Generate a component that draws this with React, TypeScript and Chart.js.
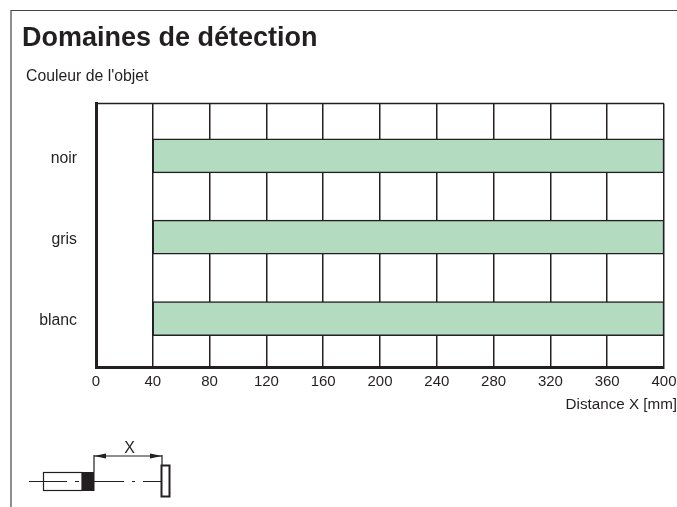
import React, { useEffect, useRef } from "react";
import { Chart, registerables } from "chart.js";

Chart.register(...registerables);

const categories = ["noir", "gris", "blanc"];
const rangeStart = [40, 40, 40];
const rangeEnd = [400, 400, 400];
const xTicks = [0, 40, 80, 120, 160, 200, 240, 280, 320, 360, 400];
const titleText = "Domaines de détection";
const subtitleText = "Couleur de l'objet";
const xAxisText = "Distance X [mm]";

const FONT = "'Liberation Sans', Arial, sans-serif";
const INK = "#231f20";

const decor = {
  id: "decor",
  beforeDraw(chart: any) {
    const c = chart.ctx;
    c.save();
    c.fillStyle = "#fff";
    c.fillRect(0, 0, chart.width, chart.height);
    c.strokeStyle = "#444";
    c.lineWidth = 1.2;
    c.beginPath();
    c.moveTo(11, 507);
    c.lineTo(11, 10.5);
    c.lineTo(677, 10.5);
    c.stroke();
    c.restore();
  },
  afterDraw(chart: any) {
    const c = chart.ctx;
    const a = chart.chartArea;
    c.save();
    c.strokeStyle = INK;
    c.lineWidth = 1.5;
    c.beginPath();
    c.moveTo(a.left, a.top);
    c.lineTo(a.right, a.top);
    c.stroke();

    c.fillStyle = INK;
    c.font = `15.8px ${FONT}`;
    c.textAlign = "left";
    c.textBaseline = "alphabetic";
    c.fillText(subtitleText, 26, 81);
    c.textAlign = "right";
    c.font = `15.2px ${FONT}`;
    c.fillText(xAxisText, 677, 409);

    // sensor sketch
    c.lineWidth = 1.2;
    c.strokeRect(43.5, 472.5, 38.5, 18);
    c.fillRect(82, 472, 12.5, 19);
    c.beginPath();
    c.moveTo(29, 481.5); c.lineTo(67, 481.5);
    c.moveTo(75, 481.5); c.lineTo(79, 481.5);
    c.moveTo(94, 481.5); c.lineTo(124, 481.5);
    c.moveTo(132, 481.5); c.lineTo(135, 481.5);
    c.moveTo(143, 481.5); c.lineTo(161, 481.5);
    c.moveTo(94, 472); c.lineTo(94, 455);
    c.moveTo(162, 465); c.lineTo(162, 455);
    c.moveTo(94, 456); c.lineTo(162, 456);
    c.stroke();
    c.lineWidth = 2;
    c.strokeRect(161.5, 465.5, 8, 31);
    c.beginPath();
    c.moveTo(94, 456); c.lineTo(106, 453.5); c.lineTo(106, 458.5); c.closePath();
    c.moveTo(162, 456); c.lineTo(150, 453.5); c.lineTo(150, 458.5); c.closePath();
    c.fill();
    c.font = `16px ${FONT}`;
    c.textAlign = "center";
    c.fillText("X", 129.5, 453);
    c.restore();
  },
};

export default function App() {
  const ref = useRef<HTMLCanvasElement>(null);
  useEffect(() => {
    const chart = new Chart(ref.current!, {
      type: "bar",
      plugins: [decor],
      data: {
        datasets: [
          {
            data: categories.map((_, i) => ({ x: [rangeStart[i], rangeEnd[i]], y: i })) as any,
            backgroundColor: "#b2dbbf",
            borderColor: INK,
            borderWidth: 1.5,
            borderSkipped: false,
            barThickness: 34,
          },
        ],
      },
      options: {
        indexAxis: "y",
        animation: false,
        responsive: false,
        parsing: { xAxisKey: "x", yAxisKey: "y" } as any,
        layout: { padding: { left: 22, right: 13, top: 0, bottom: 110 } },
        plugins: {
          legend: { display: false },
          tooltip: { enabled: false },
          title: {
            display: true,
            text: titleText,
            align: "start",
            color: INK,
            font: { family: FONT, size: 27, weight: "bold" },
            padding: { top: 22, bottom: 49 },
          },
        },
        scales: {
          x: {
            type: "linear",
            min: 0,
            max: 400,
            afterBuildTicks: (s: any) => {
              s.ticks = xTicks.map((value) => ({ value }));
            },
            afterFit: (s: any) => {
              s.height = 30;
              s.paddingLeft = 0;
              s.paddingRight = 0;
            },
            grid: { color: INK, lineWidth: 1.5, drawTicks: false },
            border: { color: INK, width: 3 },
            ticks: {
              color: INK,
              padding: 6,
              maxRotation: 0,
              autoSkip: false,
              font: { family: FONT, size: 15 },
            },
          },
          y: {
            type: "linear",
            reverse: true,
            offset: false,
            min: -0.644,
            max: 2.595,
            afterBuildTicks: (s: any) => {
              // labels sit slightly below the middle of each bar
              s.ticks = categories.map((_, i) => ({ value: i + 0.03 }));
            },
            afterFit: (s: any) => {
              s.width = 74;
            },
            grid: { display: false, drawTicks: false },
            border: { color: INK, width: 3 },
            ticks: {
              color: INK,
              padding: 19,
              font: { family: FONT, size: 15.8 },
              callback: (v: any) => categories[Math.round(v)],
            },
          },
        },
      },
    });
    return () => chart.destroy();
  }, []);
  return (
    <canvas
      ref={ref}
      width={677}
      height={507}
      style={{ position: "fixed", left: 0, top: 0, display: "block" }}
    />
  );
}
